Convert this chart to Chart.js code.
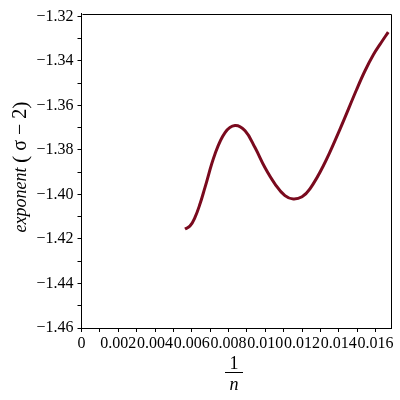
<!DOCTYPE html>
<html>
<head>
<meta charset="utf-8">
<script src="https://cdn.jsdelivr.net/npm/chart.js@4/dist/chart.umd.min.js"></script>
<style>
  html, body { margin: 0; padding: 0; background: #fff; }
  canvas { display: block; }
</style>
</head>
<body>
<canvas id="expChart" width="400" height="400"></canvas>
<script>
// values
const invN = [0.00563, 0.00590, 0.00617, 0.00645, 0.00672, 0.00726, 0.00781, 0.00835, 0.00890,
  0.00944, 0.00998, 0.01053, 0.01107, 0.01152, 0.01200, 0.01243, 0.01316, 0.01406, 0.01497,
  0.01542, 0.01588, 0.01630, 0.01669];
const exponent = [-1.4155, -1.4142, -1.4104, -1.4042, -1.3968, -1.3819, -1.3722, -1.3690, -1.3714,
  -1.3789, -1.3879, -1.3953, -1.4005, -1.4020, -1.4010, -1.3975, -1.3871, -1.3707, -1.3528,
  -1.3445, -1.3372, -1.3318, -1.3270];

const xMajorTicks = [0, 0.002, 0.004, 0.006, 0.008, 0.010, 0.012, 0.014, 0.016];
const xTickLabels = ['0', '0.002', '0.004', '0.006', '0.008', '0.010', '0.012', '0.014', '0.016'];
const xMinorTicks = [0.001, 0.003, 0.005, 0.007, 0.009, 0.011, 0.013, 0.015];
const yMajorTicks = [-1.46, -1.44, -1.42, -1.40, -1.38, -1.36, -1.34, -1.32];
const yTickLabels = ['\u22121.46', '\u22121.44', '\u22121.42', '\u22121.40',
  '\u22121.38', '\u22121.36', '\u22121.34', '\u22121.32'];
const yMinorTicks = [-1.45, -1.43, -1.41, -1.39, -1.37, -1.35, -1.33];

const serif = "'Liberation Serif', 'DejaVu Serif', serif";

function tickList(major, minor) {
  return major.concat(minor).sort((a, b) => a - b).map(v => ({ value: v }));
}
function labelFor(major, labels, v) {
  const i = major.findIndex(m => Math.abs(m - v) < 1e-9);
  return i >= 0 ? labels[i] : '';
}

// frame on top/right plus the two axis titles
const frameAndTitles = {
  id: 'frameAndTitles',
  afterDraw(chart) {
    const ctx = chart.ctx;
    const a = chart.chartArea;
    ctx.save();
    ctx.strokeStyle = '#000';
    ctx.lineWidth = 1;
    ctx.beginPath();
    ctx.moveTo(Math.round(a.left) + 0.5, Math.round(a.top) + 0.5);
    ctx.lineTo(Math.round(a.right) + 0.5, Math.round(a.top) + 0.5);
    ctx.lineTo(Math.round(a.right) + 0.5, Math.round(a.bottom) + 0.5);
    ctx.stroke();

    // x title: 1/n as a fraction
    const cx = 234;
    ctx.fillStyle = '#000';
    ctx.textAlign = 'center';
    ctx.textBaseline = 'alphabetic';
    ctx.font = '18px ' + serif;
    ctx.fillText('1', cx, 369);
    ctx.font = 'italic 18px ' + serif;
    ctx.fillText('n', cx, 390);
    ctx.beginPath();
    ctx.moveTo(225, 372.5);
    ctx.lineTo(243, 372.5);
    ctx.stroke();

    // y title, rotated
    ctx.translate(21, 167);
    ctx.rotate(-Math.PI / 2);
    const parts = [
      ['exponent', 'italic 18px ' + serif],
      [' ', '18px ' + serif],
      ['(', '22px ' + serif],
      [' \u03C3 \u2212 2', '20px ' + serif],
      [')', '22px ' + serif]
    ];
    let total = 0;
    parts.forEach(p => { ctx.font = p[1]; total += ctx.measureText(p[0]).width; });
    let x = -total / 2;
    ctx.textAlign = 'left';
    ctx.textBaseline = 'middle';
    parts.forEach(p => {
      ctx.font = p[1];
      ctx.fillText(p[0], x, 0);
      x += ctx.measureText(p[0]).width;
    });
    ctx.restore();
  }
};

const ctxExp = document.getElementById('expChart').getContext('2d');
const expChart = new Chart(ctxExp, {
  type: 'line',
  data: {
    datasets: [{
      label: 'exponent',
      data: invN.map((v, i) => ({ x: v, y: exponent[i] })),
      borderColor: '#7A0A1E',
      borderWidth: 3,
      pointRadius: 0,
      tension: 0.4,
      fill: false
    }]
  },
  options: {
    responsive: false,
    animation: false,
    events: [],
    layout: { padding: { left: 0, right: 9, top: 12, bottom: 0 } },
    plugins: {
      legend: { display: false },
      tooltip: { enabled: false }
    },
    scales: {
      x: {
        type: 'linear',
        min: 0,
        max: 0.01684,
        afterBuildTicks: s => { s.ticks = tickList(xMajorTicks, xMinorTicks); },
        afterFit: s => { s.height = 72; },
        grid: { drawOnChartArea: false, tickLength: 4, color: '#000', tickColor: '#000' },
        border: { display: true, color: '#000', width: 1 },
        ticks: {
          autoSkip: false,
          maxRotation: 0,
          padding: 2,
          color: '#000',
          font: { family: serif, size: 16 },
          callback: v => labelFor(xMajorTicks, xTickLabels, v)
        }
      },
      y: {
        type: 'linear',
        min: -1.46,
        max: -1.3187,
        afterBuildTicks: s => { s.ticks = tickList(yMajorTicks, yMinorTicks); },
        afterFit: s => { s.width = 81.5; },
        grid: { drawOnChartArea: false, tickLength: 4, color: '#000', tickColor: '#000' },
        border: { display: true, color: '#000', width: 1 },
        ticks: {
          autoSkip: false,
          padding: 4,
          color: '#000',
          font: { family: serif, size: 16 },
          callback: v => labelFor(yMajorTicks, yTickLabels, v)
        }
      }
    }
  },
  plugins: [frameAndTitles]
});
</script>
</body>
</html>
